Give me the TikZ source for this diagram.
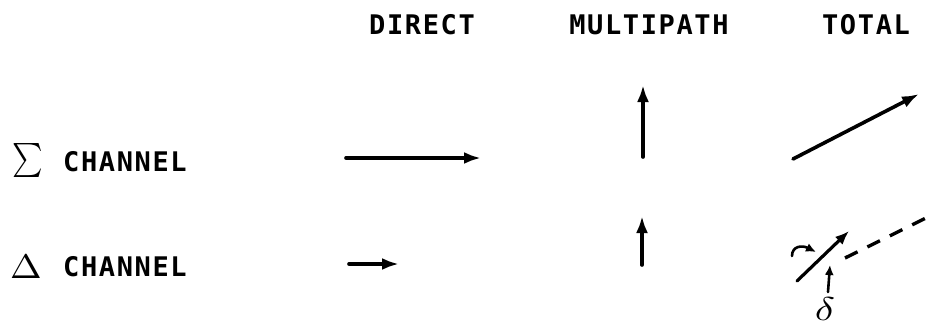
\documentclass[tikz,border=0pt]{standalone}
\usepackage{fontspec}
\usetikzlibrary{arrows.meta}
\newfontfamily\labfont[LetterSpace=6]{DejaVu Sans Mono Bold}
\begin{document}
\begin{tikzpicture}[x=1pt,y=-1pt,
  lab/.style={font=\labfont\fontsize{27}{27}\selectfont, inner sep=0pt},
  sym/.style={inner sep=0pt},
  vec/.style={line width=3.6pt, line cap=round, -{Latex[length=17pt,width=12pt]}},
  smallvec/.style={line width=3.2pt, line cap=round, -{Latex[length=14pt,width=11pt]}},
  marker/.style={line width=2.6pt, line cap=round, -{Latex[length=10pt,width=9pt]}},
  refline/.style={line width=3.4pt, dash pattern=on 14pt off 11pt}]
\useasboundingbox (0,0) rectangle (927,327);
% headers
\node[lab] (hdir) at (422,25) {DIRECT};
\node[lab] (hmul) at (649,25) {MULTIPATH};
\node[lab] (htot) at (866,25) {TOTAL};
% row labels
\node[sym] (sig) at (28,160) {\scalebox{2.9}[3.4]{$\sum$}};
\node[lab, anchor=west] (ch1) at (63,162) {CHANNEL};
\node[sym] (dlt) at (26,267) {\scalebox{3.8}[3.4]{$\Delta$}};
\node[lab, anchor=west] (ch2) at (63,267) {CHANNEL};
% coordinates
\coordinate (sd0) at (346,158); \coordinate (sd1) at (481,158);
\coordinate (dd0) at (349,264); \coordinate (dd1) at (399,264);
\coordinate (sm0) at (643,157); \coordinate (sm1) at (643,85);
\coordinate (dm0) at (642,265); \coordinate (dm1) at (642,216);
\coordinate (st0) at (793,159); \coordinate (st1) at (919,94);
\coordinate (dt0) at (797,281); \coordinate (dt1) at (849,231);
\coordinate (rl0) at (845,258); \coordinate (rl1) at (930,216);
\coordinate (ca0) at (792,256); \coordinate (ca1) at (816,252);
\coordinate (la0) at (828,292); \coordinate (la1) at (830,265);
% arrows
\draw[vec] (sd0) -- (sd1);
\draw[vec] (dd0) -- (dd1);
\draw[vec] (sm0) -- (sm1);
\draw[vec] (dm0) -- (dm1);
\draw[vec] (st0) -- (st1);
\draw[smallvec] (dt0) -- (dt1);
\draw[refline] (rl0) -- (rl1);
\draw[marker] (ca0) .. controls (792,246) and (802,245) .. (ca1);
\draw[marker] (la0) -- (la1);
\node[sym] (dl) at (825,309) {\scalebox{4.2}[3.3]{$\delta$}};
\end{tikzpicture}
\end{document}
